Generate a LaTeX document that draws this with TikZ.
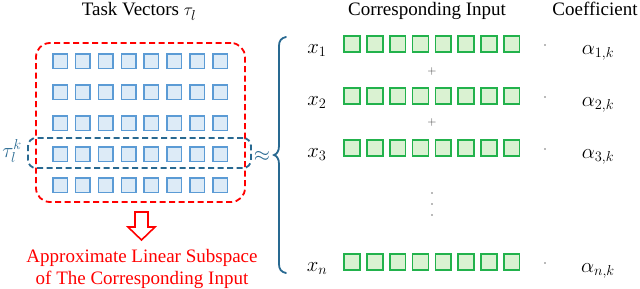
\documentclass[tikz,border=0pt]{standalone}
\usepackage{fontspec}
\setmainfont{Liberation Serif}
\definecolor{sqblue}{RGB}{91,155,213}
\definecolor{sqbluefill}{RGB}{221,235,247}
\definecolor{sqgreen}{RGB}{34,178,76}
\definecolor{sqgreenfill}{RGB}{218,242,210}
\definecolor{teal2}{RGB}{40,105,145}
\definecolor{redline}{RGB}{255,0,0}
\begin{document}
\begin{tikzpicture}[x=1pt,y=-1pt,
  bsq/.style={draw=sqblue, fill=sqbluefill, line width=1.5pt, minimum size=14.5pt, inner sep=0pt},
  gsq/.style={draw=sqgreen, fill=sqgreenfill, line width=1.6pt, minimum size=15.8pt, inner sep=0pt},
  txt/.style={font=\fontsize{19}{23}\selectfont, inner sep=0pt},
  mth/.style={font=\fontsize{22}{26}\selectfont, inner sep=0pt},
  reddash/.style={draw=redline, line width=1.8pt, dash pattern=on 6pt off 3.5pt},
  bluedash/.style={draw=teal2, line width=1.8pt, dash pattern=on 6pt off 3.5pt},
  smalldot/.style={circle, fill=black!55, inner sep=0pt, minimum size=1.8pt},
]
\useasboundingbox (0,0) rectangle (640,289);

% titles
\node[txt, anchor=base] (t1) at (139,16) {Task Vectors $\tau_l$};
\node[txt, anchor=base] (t2) at (427,16) {Corresponding Input};
\node[txt, anchor=base] (t3) at (595,16) {Coefficient};

% blue grid
\foreach \r in {1,...,5} {
  \foreach \c in {1,...,8} {
    \node[bsq] (b\r-\c) at ({60+22.86*(\c-1)}, {61+31*(\r-1)}) {};
  }
}

% blue dashed (tau_l^k) box
\node[bluedash, rounded corners=8pt, minimum width=223pt, minimum height=30pt, inner sep=0pt] (tk) at (139.5,153) {};
% red dashed subspace box
\node[reddash, rounded corners=14pt, minimum width=209pt, minimum height=159pt, inner sep=0pt] (sub) at (140.5,122.5) {};

\node[mth, text=teal2] (tklab) at (12,151) {$\tau_l^k$};
\node[mth, text=teal2] (approx) at (262,156) {$\approx$};

% brace
\draw[teal2, line width=1.8pt, line cap=round]
  (286,37) .. controls (281,38) and (279,41) .. (279,46)
  -- (279,146) .. controls (279,151) and (277,154) .. (274,155)
  .. controls (277,156) and (279,159) .. (279,164)
  -- (279,264) .. controls (279,269) and (281,272) .. (286,273);

% red hollow arrow
\draw[redline, line width=1.6pt, line join=miter, fill=white]
  (135,212) -- (148,212) -- (148,227) -- (155,227) -- (141.5,240)
  -- (128,227) -- (135,227) -- cycle;
\coordinate (arrtip) at (141.5,240);

\node[txt, text=redline, anchor=base] (r1) at (142,262) {Approximate Linear Subspace};
\node[txt, text=redline, anchor=base] (r2) at (142,284) {of The Corresponding Input};

% green rows
\foreach \y/\lab/\i [count=\k] in {44/1/1, 96/2/2, 148/3/3, 262/n/n} {
  \foreach \c in {1,...,8} {
    \node[gsq] (g\k-\c) at ({352+22.8*(\c-1)}, \y) {};
  }
  \node[mth, anchor=base] (x\k) at (317,\y+9) {$x_{\lab}$};
  \node[smalldot] (d\k) at (545,\y+1) {};
  \node[mth, anchor=base] (a\k) at (598,\y+10) {$\alpha_{\i,k}$};
}

\node[font=\fontsize{13}{15}\selectfont, text=black!75, inner sep=0pt] (p1) at (432,71) {$+$};
\node[font=\fontsize{13}{15}\selectfont, text=black!75, inner sep=0pt] (p2) at (432,122) {$+$};

\node[smalldot] (v1) at (432,193) {};
\node[smalldot] (v2) at (432,204) {};
\node[smalldot] (v3) at (432,215) {};
\end{tikzpicture}
\end{document}
